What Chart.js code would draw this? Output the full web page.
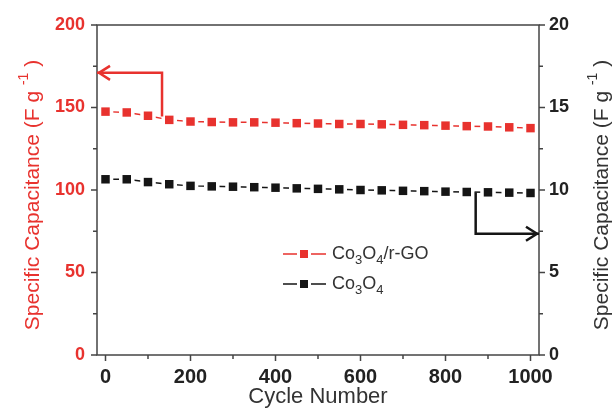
<!DOCTYPE html>
<html>
<head>
<meta charset="utf-8">
<script src="https://cdn.jsdelivr.net/npm/chart.js@4"></script>
<style>
  html, body { margin: 0; padding: 0; background: #fff; }
  #wrap { width: 616px; height: 411px; }
</style>
</head>
<body>
<div id="wrap"><canvas id="chart_cap"></canvas></div>
<script>
// cycle number, every 50 cycles
var cycles = [0, 50, 100, 150, 200, 250, 300, 350, 400, 450, 500, 550, 600, 650, 700, 750, 800, 850, 900, 950, 1000]
// Co3O4/r-GO (left axis, F g-1)
var capRGO = [147.5, 147, 145, 142.5, 141.5, 141.2, 141, 141, 140.8, 140.5, 140.3, 140, 140, 139.8, 139.5, 139.3, 139, 138.7, 138.5, 138, 137.5]
// Co3O4 (right axis, F g-1)
var capCo3O4 = [10.65, 10.65, 10.48, 10.35, 10.25, 10.22, 10.2, 10.17, 10.14, 10.1, 10.07, 10.04, 10.0, 9.98, 9.95, 9.93, 9.9, 9.88, 9.86, 9.84, 9.82]

var xTicks = [0, 200, 400, 600, 800, 1000]
var leftTicks = [0, 50, 100, 150, 200]
var rightTicks = [0, 5, 10, 15, 20]

var xMin = -20, xMax = 1020

var RED = '#e8322e'
var BLACK = '#151515'
var AXIS = '#444'
var FONT = 'Liberation Sans, Arial, sans-serif'

function pts(ys){
	return cycles.map(function(c, i){ return {x: c, y: ys[i]} })
}

// text with sub/superscripts, parts = [[text, size, dy]]
function richWidth(ctx, parts){
	var w = 0
	parts.forEach(function(p){
		ctx.font = p[1] + 'px ' + FONT
		w += ctx.measureText(p[0]).width
	})
	return w
}
function drawRich(ctx, parts, x, y, color){
	ctx.fillStyle = color
	ctx.textBaseline = 'middle'
	ctx.textAlign = 'left'
	parts.forEach(function(p){
		ctx.font = p[1] + 'px ' + FONT
		ctx.fillText(p[0], x, y + p[2])
		x += ctx.measureText(p[0]).width
	})
}

var titleParts = [['Specific Capacitance (F g ', 21, 0], ['-1', 14, -9], [' )', 21, 0]]

var decor = {
	id: 'decor',
	afterDraw: function(chart){
		var ctx = chart.ctx
		var a = chart.chartArea
		var sx = chart.scales.x, sy = chart.scales.y, sy2 = chart.scales.y2
		ctx.save()

		// frame
		ctx.strokeStyle = AXIS
		ctx.lineWidth = 1.5
		ctx.strokeRect(a.left, a.top, a.right - a.left, a.bottom - a.top)

		// major + minor ticks
		ctx.beginPath()
		for (var v = 0; v <= 1000; v += 100) {
			var px = sx.getPixelForValue(v)
			ctx.moveTo(px, a.bottom)
			ctx.lineTo(px, a.bottom + (v % 200 === 0 ? 6 : 4))
		}
		for (var v = 0; v <= 200; v += 25) {
			var py = sy.getPixelForValue(v)
			ctx.moveTo(a.left, py)
			ctx.lineTo(a.left - (v % 50 === 0 ? 6 : 4), py)
		}
		for (var v = 0; v <= 20; v += 2.5) {
			var py = sy2.getPixelForValue(v)
			ctx.moveTo(a.right, py)
			ctx.lineTo(a.right + (v % 5 === 0 ? 6 : 4), py)
		}
		ctx.stroke()

		// arrows
		function arrow(p, ys, color, dir){
			ctx.strokeStyle = color
			ctx.lineWidth = 2.5
			ctx.beginPath()
			p.forEach(function(q, i){
				var X = sx.getPixelForValue(q[0]), Y = ys.getPixelForValue(q[1])
				if (i === 0) ctx.moveTo(X, Y); else ctx.lineTo(X, Y)
			})
			ctx.stroke()
			var last = p[p.length - 1]
			var tx = sx.getPixelForValue(last[0]) + (dir < 0 ? 2 : -2), ty = ys.getPixelForValue(last[1])
			ctx.beginPath()
			ctx.moveTo(tx - dir * 11, ty - 7)
			ctx.lineTo(tx, ty)
			ctx.lineTo(tx - dir * 11, ty + 7)
			ctx.stroke()
		}
		arrow([[133, 144.5], [133, 171], [xMin, 171]], sy, RED, -1)
		arrow([[871, 9.85], [871, 7.35], [xMax, 7.35]], sy2, BLACK, 1)

		// legend
		function legendRow(y, color, parts){
			ctx.strokeStyle = color
			ctx.lineWidth = 1.5
			ctx.beginPath()
			ctx.moveTo(283, y); ctx.lineTo(297, y)
			ctx.moveTo(311, y); ctx.lineTo(326, y)
			ctx.stroke()
			ctx.fillStyle = color
			ctx.fillRect(300, y - 4, 8, 8)
			drawRich(ctx, parts, 332, y, '#333')
		}
		legendRow(254, RED, [['Co', 18, 0], ['3', 13, 6], ['O', 18, 0], ['4', 13, 6], ['/r-GO', 18, 0]])
		legendRow(284, BLACK, [['Co', 18, 0], ['3', 13, 6], ['O', 18, 0], ['4', 13, 6]])

		// axis titles
		ctx.fillStyle = '#333'
		ctx.font = '22px ' + FONT
		ctx.textAlign = 'center'
		ctx.textBaseline = 'middle'
		ctx.fillText('Cycle Number', (a.left + a.right) / 2, 397)

		var tw = richWidth(ctx, titleParts)
		var cy = (a.top + a.bottom) / 2
		ctx.save()
		ctx.translate(33, cy + 5)
		ctx.rotate(-Math.PI / 2)
		drawRich(ctx, titleParts, -tw / 2, 0, RED)
		ctx.restore()
		ctx.save()
		ctx.translate(602, cy + 5)
		ctx.rotate(-Math.PI / 2)
		drawRich(ctx, titleParts, -tw / 2, 0, '#333')
		ctx.restore()

		ctx.restore()
	}
}

function series(ys, axis, color, order){
	return [
		{data: pts(ys), yAxisID: axis, borderColor: color, borderWidth: 1.5, pointRadius: 0, showLine: true, order: order + 2},
		{data: pts(ys), yAxisID: axis, showLine: false, pointStyle: 'rect', pointRadius: 11, pointBackgroundColor: '#fff', pointBorderWidth: 0, order: order + 1},
		{data: pts(ys), yAxisID: axis, showLine: false, pointStyle: 'rect', pointRadius: 6, pointBackgroundColor: color, pointBorderWidth: 0, order: order}
	]
}

function fixTicks(list){
	return function(s){ s.ticks = list.map(function(v){ return {value: v} }) }
}
var tickFont = {family: FONT, size: 18, weight: 'bold'}

var ctx = document.getElementById('chart_cap')
var myChart = new Chart(ctx, {
	type: 'scatter',
	data: {
		datasets: series(capRGO, 'y', RED, 1).concat(series(capCo3O4, 'y2', BLACK, 4))
	},
	options: {
		responsive: true,
		maintainAspectRatio: false,
		animation: false,
		layout: {padding: {top: 25, left: 0, right: 0, bottom: 0}},
		plugins: {legend: {display: false}, tooltip: {enabled: false}},
		scales: {
			x: {
				type: 'linear', min: xMin, max: xMax,
				grid: {display: false, drawTicks: false}, border: {display: false},
				afterBuildTicks: fixTicks(xTicks),
				ticks: {padding: 10, color: '#222', font: {family: FONT, size: 20, weight: 'bold'}, callback: function(v){ return String(v) }},
				afterFit: function(s){ s.height = 56 }
			},
			y: {
				position: 'left', min: 0, max: 200,
				grid: {display: false, drawTicks: false}, border: {display: false},
				afterBuildTicks: fixTicks(leftTicks),
				ticks: {padding: 12, color: RED, font: tickFont, callback: function(v){ return String(v) }},
				afterFit: function(s){ s.width = 97 }
			},
			y2: {
				position: 'right', min: 0, max: 20,
				grid: {display: false, drawTicks: false}, border: {display: false},
				afterBuildTicks: fixTicks(rightTicks),
				ticks: {padding: 10, color: '#222', font: tickFont, callback: function(v){ return String(v) }},
				afterFit: function(s){ s.width = 77 }
			}
		}
	},
	plugins: [decor]
})
</script>
</body>
</html>
